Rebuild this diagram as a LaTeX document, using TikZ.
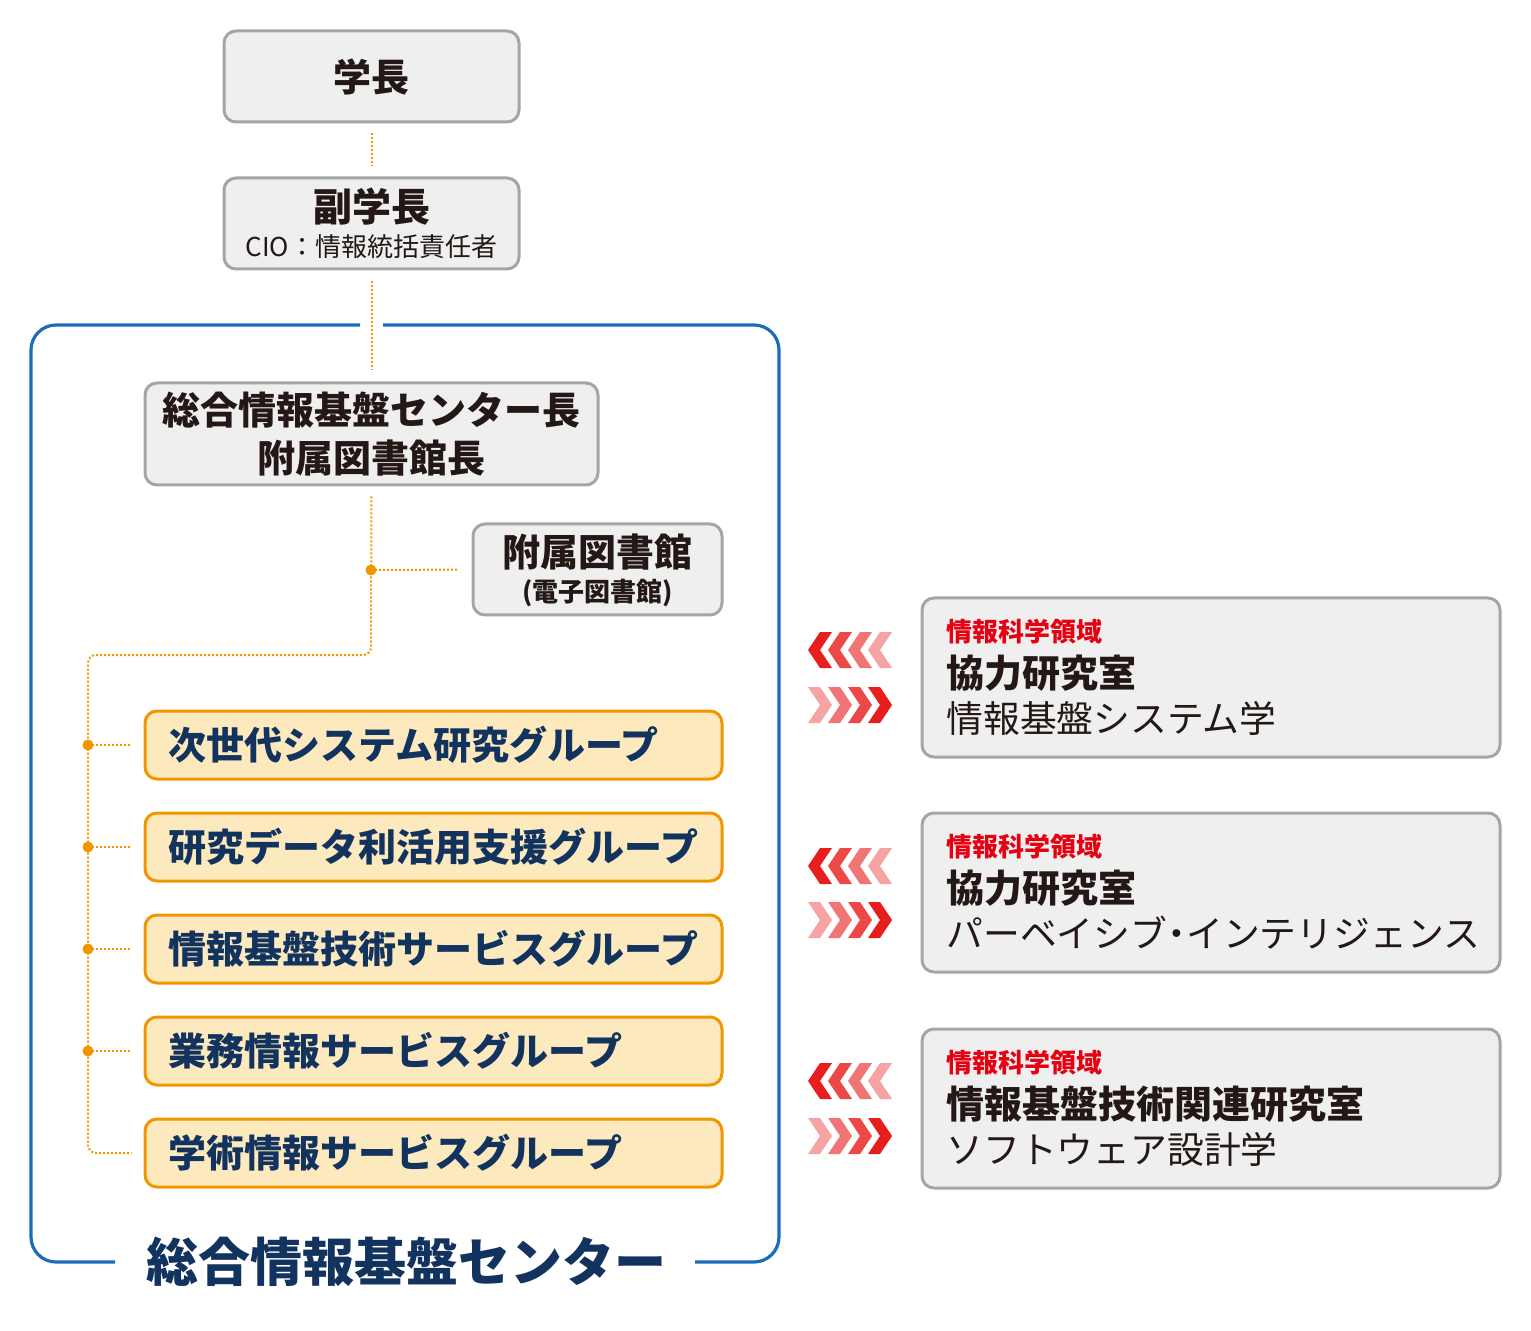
\documentclass[tikz,border=0pt]{standalone}
\usepackage{fontspec}
\setmainfont{Noto Sans CJK JP}
\definecolor{boxgray}{HTML}{A5A5A5}
\definecolor{boxfill}{HTML}{EFEFEF}
\definecolor{darktext}{HTML}{231815}
\definecolor{navy}{HTML}{13335F}
\definecolor{frameblue}{HTML}{1A6DB6}
\definecolor{orng}{HTML}{F29600}
\definecolor{cream}{HTML}{FDE9BE}
\definecolor{redlbl}{HTML}{E50012}
\definecolor{chA}{HTML}{E61E1E}
\definecolor{chB}{HTML}{EC4848}
\definecolor{chC}{HTML}{F07676}
\definecolor{chD}{HTML}{F5A3A3}
\newcommand\fsBig{\fontsize{19pt}{22pt}\selectfont\bfseries}
\newcommand\fsSmall{\fontsize{13pt}{15pt}\selectfont}
\begin{document}
\begin{tikzpicture}[x=0.5pt,y=-0.5pt,
  gbox/.style={draw=boxgray, line width=1.5pt, fill=boxfill, rounded corners=6pt, inner sep=0pt},
  obox/.style={draw=orng, line width=1.5pt, fill=cream, rounded corners=6pt, inner sep=0pt,
               minimum width=288.5pt, minimum height=34pt},
  rbox/.style={gbox, minimum width=289pt, minimum height=79.5pt},
  conn/.style={draw=orng, line width=1pt, dash pattern=on 1pt off 1pt},
  dotm/.style={circle, fill=orng, inner sep=0pt, minimum size=5.5pt},
  txt/.style={inner sep=0pt, text=darktext},
  grouptxt/.style={anchor=west, inner sep=0pt, text=navy, font=\fsBig},
  lbltxt/.style={anchor=west, inner sep=0pt, text=redlbl, font=\fsSmall\bfseries},
  headtxt/.style={anchor=west, inner sep=0pt, text=darktext, font=\fsBig},
  subtxt/.style={anchor=west, inner sep=0pt, text=darktext, font=\fontsize{18.4pt}{21pt}\selectfont},
  chl/.pic={\fill (0,0) -- (12,-18) -- (24,-18) -- (12,0) -- (24,18) -- (12,18) -- cycle;},
  chr/.pic={\fill (0,0) -- (-12,-18) -- (-24,-18) -- (-12,0) -- (-24,18) -- (-12,18) -- cycle;}
]
\useasboundingbox (0,0) rectangle (1531,1331);

% blue frame
\draw[frameblue, line width=1.6pt, rounded corners=12.5pt]
  (383,325) -| (779,1262) -- (695,1262);
\draw[frameblue, line width=1.6pt, rounded corners=12.5pt]
  (115,1262) -| (31,325) -- (360,325);
\node[inner sep=0pt, text=navy, font=\fontsize{26pt}{30pt}\selectfont\bfseries] (title) at (406,1262) {総合情報基盤センター};

% top boxes
\node[gbox, minimum width=147.5pt, minimum height=45.5pt] (pres) at (371.5,76.5) {};
\node[txt, font=\fsBig] (prest) at (371.5,77) {学長};
\node[gbox, minimum width=147.5pt, minimum height=45.5pt] (vp) at (371.5,223.5) {};
\node[txt, font=\fontsize{19.5pt}{22pt}\selectfont\bfseries] (vpt1) at (371.5,207) {副学長};
\node[txt, font=\fsSmall] (vpt2) at (371.5,247) {CIO：情報統括責任者};

\node[gbox, minimum width=226.5pt, minimum height=51pt] (chief) at (371.5,434) {};
\node[txt, font=\fsBig] (chieft1) at (371.5,410) {総合情報基盤センター長};
\node[txt, font=\fsBig] (chieft2) at (371.5,458) {附属図書館長};

\node[gbox, minimum width=124.5pt, minimum height=45.5pt] (lib) at (597.5,569.5) {};
\node[txt, font=\fsBig] (libt1) at (597.5,552) {附属図書館};
\node[txt, font=\fsSmall\bfseries] (libt2) at (597.5,593) {(電子図書館)};

% groups
\node[obox] (g1) at (433.5,745) {};
\node[obox] (g2) at (433.5,847) {};
\node[obox] (g3) at (433.5,949) {};
\node[obox] (g4) at (433.5,1051) {};
\node[obox] (g5) at (433.5,1153) {};
\node[grouptxt] (g1t) at (168,745) {次世代システム研究グループ};
\node[grouptxt] (g2t) at (168,847) {研究データ利活用支援グループ};
\node[grouptxt] (g3t) at (168,949) {情報基盤技術サービスグループ};
\node[grouptxt] (g4t) at (168,1051) {業務情報サービスグループ};
\node[grouptxt] (g5t) at (168,1153) {学術情報サービスグループ};

% connectors
\draw[conn, shorten <=5pt, shorten >=5pt] (pres.south) -- (vp.north);
\draw[conn, shorten <=5.5pt, shorten >=5.5pt] (vp.south) -- (chief.north);
\node[dotm] (dlib) at (371,570) {};
\draw[conn, shorten >=6.5pt] (dlib.center) -- (lib.west);
\coordinate (turn) at (371,655);
\coordinate (leftc) at (88,655);
\coordinate (lastc) at (88,1153);
\draw[conn, rounded corners=4pt, shorten <=5pt, shorten >=6pt]
  (chief.south) -- (turn) -- (leftc) -- (lastc) -- (g5.west);
\node[dotm] (d1) at (88,745) {};
\node[dotm] (d2) at (88,847) {};
\node[dotm] (d3) at (88,949) {};
\node[dotm] (d4) at (88,1051) {};
\foreach \i in {1,2,3,4}{
  \draw[conn, shorten >=6pt] (d\i.center) -- (g\i.west);
}

% right boxes
\foreach \n/\cy/\h/\s in {r1/677.5/協力研究室/情報基盤システム学,
                          r2/892.5/協力研究室/パーベイシブ\makebox[0.52em]{・}インテリジェンス,
                          r3/1108.5/情報基盤技術関連研究室/ソフトウェア設計学}{
  \node[rbox] (\n) at (1211,\cy) {};
  \node[lbltxt] (\n l) at (946,\cy-45.5) {情報科学領域};
  \node[headtxt] (\n h) at (946,\cy-4.5) {\h};
  \node[subtxt] (\n s) at (946,\cy+40.5) {\s};
}

% chevrons
\foreach \yl/\yr in {650/705, 866/920, 1081/1136}{
  \pic[fill=chA] at (808,\yl) {chl};
  \pic[fill=chB] at (828,\yl) {chl};
  \pic[fill=chC] at (848,\yl) {chl};
  \pic[fill=chD] at (868,\yl) {chl};
  \pic[fill=chD] at (832,\yr) {chr};
  \pic[fill=chC] at (852,\yr) {chr};
  \pic[fill=chB] at (872,\yr) {chr};
  \pic[fill=chA] at (892,\yr) {chr};
}
\end{tikzpicture}
\end{document}
